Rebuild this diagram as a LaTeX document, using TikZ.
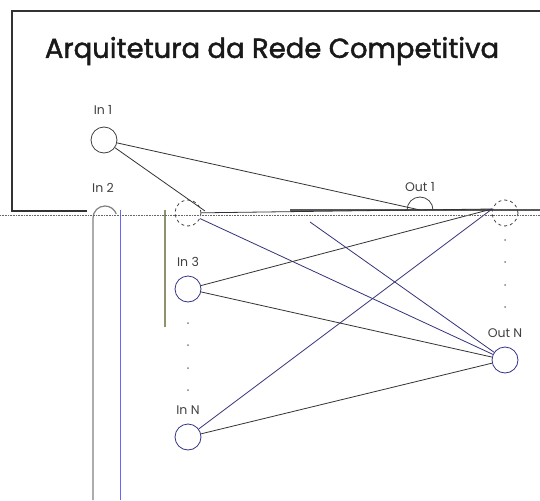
\documentclass[tikz,border=0pt]{standalone}
\usepackage{fontspec}
\setmainfont{Poppins}
\newfontfamily\titlefont[FakeBold=1.6]{Poppins}
\begin{document}
\begin{tikzpicture}[x=1pt,y=-1pt,
  neuron/.style={circle,draw=black!75,line width=0.8pt,minimum size=26pt,inner sep=0pt},
  lbl/.style={font=\fontsize{12.5}{13}\selectfont,text=black!75},
  conn/.style={draw=black!80,line width=0.8pt},
  bconn/.style={draw=blue!35!black!80,line width=0.8pt},
  frame/.style={draw=black!80,line width=2pt}]
\useasboundingbox (0,0) rectangle (540,500);
\fill[white] (0,0) rectangle (540,500);
% frame
\draw[frame] (87,211) -- (12,211) -- (12,11) -- (540,11);
\draw[frame,draw=black!65,line width=1.5pt] (290,210) -- (540,210);
\node[font=\titlefont\fontsize{27.5}{29}\selectfont,text=black!90] (title) at (272,51) {Arquitetura da Rede Competitiva};
% upper nodes
\node[neuron] (in1) at (104,140) {};
\node[lbl] (l1) at (103,110) {In 1};
\node[lbl] (l2) at (103,188) {In 2};
\node[lbl] (lo1) at (420,187) {Out 1};
\coordinate (o1top) at (420,210);
\draw[black!75,line width=0.8pt] (407,210) arc (180:360:13);
% In 2 capsule
\coordinate (c2a) at (93,500);
\coordinate (c2b) at (120,500);
\draw[black!50,line width=1.2pt] (c2a) -- (93,218) arc (180:340:12);
\draw[blue!60,line width=0.8pt] (120,210) -- (c2b);
% lower shifted part
\draw[blue!40!yellow!70!gray,line width=1.5pt] (165,210) -- (165,327);
\node[neuron,dashed] (in2) at (188,213) {};
\node[neuron,draw=blue!40!black!80] (in3) at (188,289) {};
\node[lbl] (l3) at (188,262) {In 3};
\node[neuron,draw=blue!40!black!80] (inN) at (188,437) {};
\node[lbl] (lN) at (188,410) {In N};
\node[neuron,dashed] (out1) at (505,213) {};
\node[neuron,draw=blue!40!black!80] (outN) at (505,360) {};
\node[lbl] (loN) at (505,333) {Out N};
\coordinate (o1) at (492,209);
\coordinate (s1) at (205,211);
\coordinate (s2) at (310,222);
% connections
\draw[conn] (in1) -- (o1top);
\draw[conn] (in1) -- (s1);
\draw[conn] (in2) -- (o1);
\draw[bconn] (in2) -- (outN);
\draw[conn] (in3) -- (o1);
\draw[conn] (in3) -- (outN);
\draw[bconn] (inN) -- (o1);
\draw[conn] (inN) -- (outN);
\draw[bconn] (s2) -- (outN);
\draw[black!60,densely dotted,line width=0.6pt] (0,215) -- (540,215);
% dots
\foreach \y in {323,345,368,390} \fill[black!50] (188,\y) circle (1pt);
\foreach \y in {240,262,285,307} \fill[black!50] (505,\y) circle (1pt);
\end{tikzpicture}
\end{document}
